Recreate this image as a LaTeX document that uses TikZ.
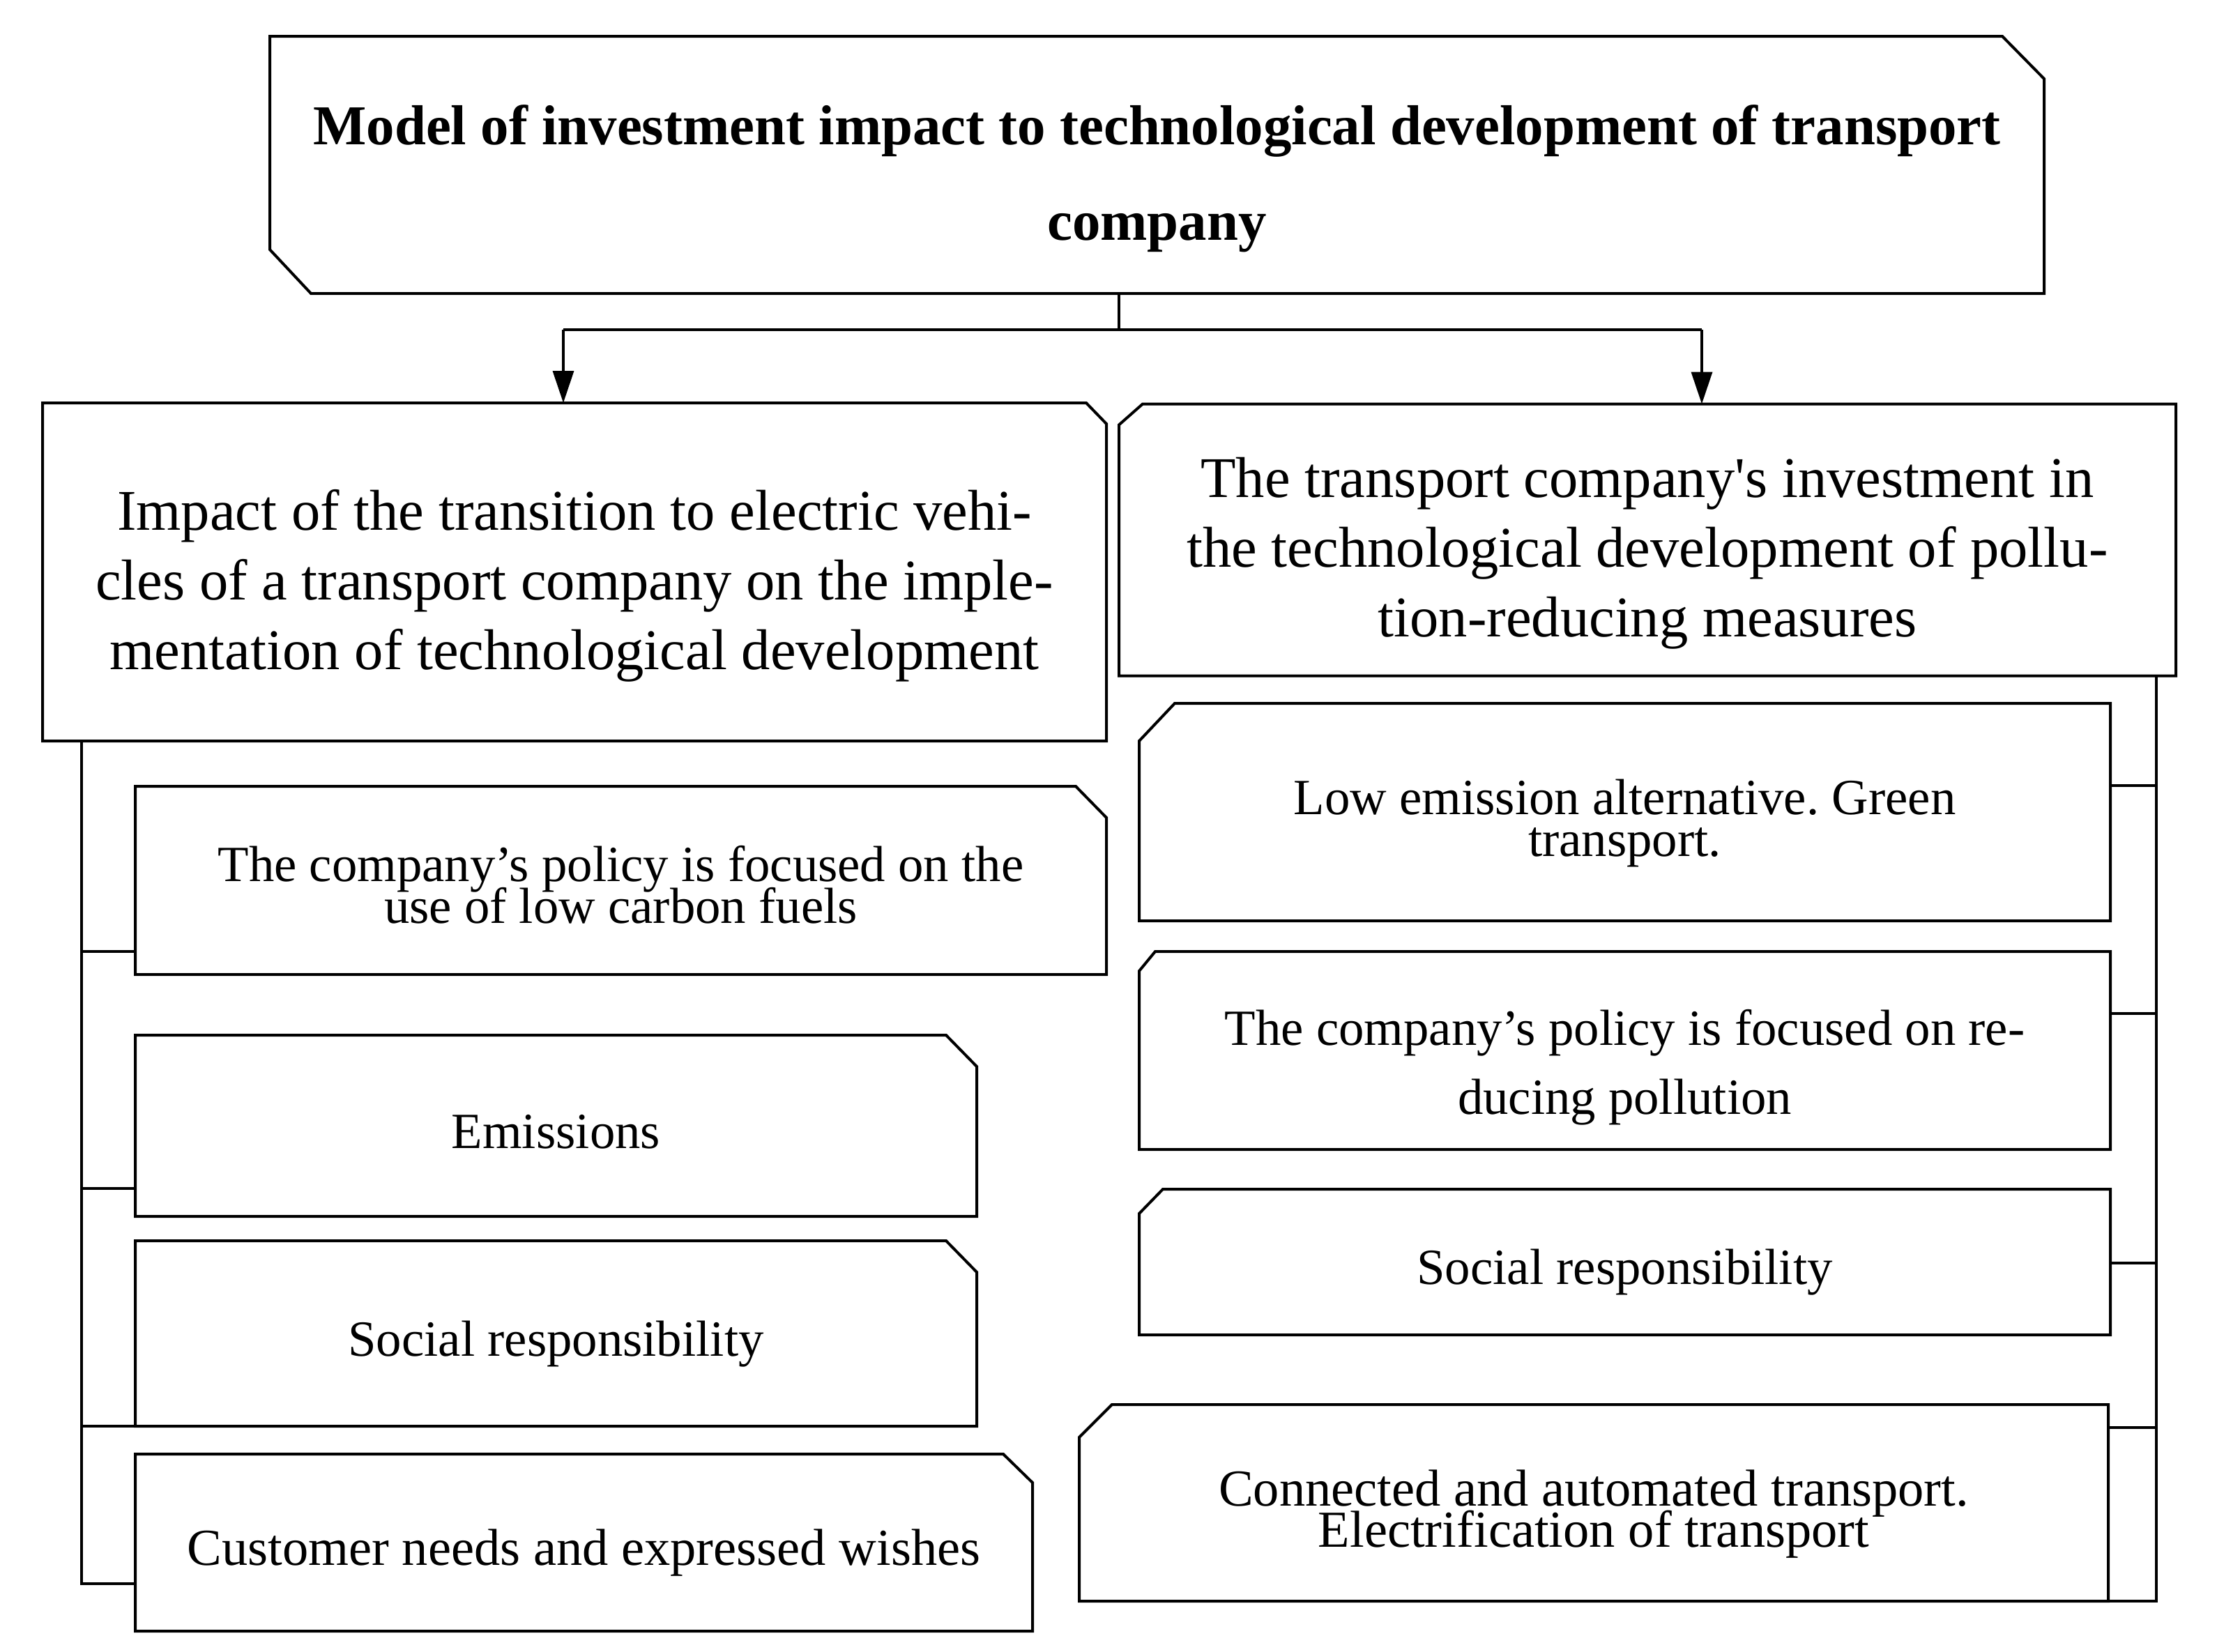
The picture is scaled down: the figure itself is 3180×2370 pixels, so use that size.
\documentclass[tikz,border=0pt]{standalone}
\usepackage{fontspec}
\setmainfont{Liberation Serif}
\frenchspacing
\usetikzlibrary{arrows.meta}
\newcommand\outlineNE[3]{\draw[edge] (#1.north west) -- ([xshift=-#2]#1.north east) -- ([yshift=-#3]#1.north east) -- (#1.south east) -- (#1.south west) -- cycle;}
\newcommand\outlineNW[3]{\draw[edge] (#1.north east) -- (#1.south east) -- (#1.south west) -- ([yshift=-#3]#1.north west) -- ([xshift=#2]#1.north west) -- cycle;}
\newcommand\fsz[2]{\fontsize{#1}{#2}\selectfont\lineskiplimit=-100pt\lineskip=0pt}
\begin{document}
\begin{tikzpicture}[x=0.1mm,y=-0.1mm,
  edge/.style={line width=0.4mm, line join=miter},
  conn/.style={line width=0.35mm},
  arr/.style={conn,-{Triangle[length=4.6mm,width=3mm]}},
  box/.style={inner sep=0pt, outer sep=0pt},
  txt/.style={inner sep=0pt, outer sep=0pt, align=center},
  big/.style={txt, font=\fsz{23.5}{28.5}},
  small/.style={txt, font=\fsz{20.7}{17}},
]
\useasboundingbox[fill=white] (0,0) rectangle (3180,2370);

% boxes
\node[box, minimum width=254.5mm, minimum height=36.9mm] (T) at (1659.5,236.5) {};
\node[box, minimum width=152.6mm, minimum height=48.5mm] (L) at (824,820.5) {};
\node[box, minimum width=151.6mm, minimum height=39mm] (R) at (2363,774.5) {};
\node[box, minimum width=139.3mm, minimum height=27mm] (L1) at (890.5,1263) {};
\node[box, minimum width=120.7mm, minimum height=26mm] (L2) at (797.5,1615) {};
\node[box, minimum width=120.7mm, minimum height=26.6mm] (L3) at (797.5,1913) {};
\node[box, minimum width=128.7mm, minimum height=25.4mm] (L4) at (837.5,2213) {};
\node[box, minimum width=139.3mm, minimum height=31.2mm] (R1) at (2330.5,1165) {};
\node[box, minimum width=139.3mm, minimum height=28.4mm] (R2) at (2330.5,1507) {};
\node[box, minimum width=139.3mm, minimum height=20.9mm] (R3) at (2330.5,1810.5) {};
\node[box, minimum width=147.6mm, minimum height=28.2mm] (R4) at (2286,2156) {};

% outlines
\draw[edge] (T.north west) -- ([xshift=-6mm]T.north east) -- ([yshift=-6.1mm]T.north east) -- (T.south east)
  -- ([xshift=5.9mm]T.south west) -- ([yshift=6.3mm]T.south west) -- cycle;
\outlineNE{L}{2.9mm}{3mm}
\outlineNW{R}{3.4mm}{3mm}
\outlineNE{L1}{4.4mm}{4.5mm}
\outlineNE{L2}{4.4mm}{4.5mm}
\outlineNE{L3}{4.4mm}{4.5mm}
\outlineNE{L4}{4.2mm}{4.1mm}
\outlineNW{R1}{5.1mm}{5.4mm}
\outlineNW{R2}{2.3mm}{2.8mm}
\outlineNW{R3}{3.4mm}{3.5mm}
\outlineNW{R4}{4.7mm}{4.7mm}

% texts
\node[txt, font=\bfseries\fsz{23}{39}] (Tt) at ([yshift=-2mm]T.center)
  {Model of investment impact to technological development of transport\\company};
\node[big] (Lt) at ([yshift=-2mm]L.center)
  {Impact of the transition to electric vehi-\\cles of a transport company on the imple-\\mentation of technological development};
\node[big] (Rt) at ([yshift=-1.9mm]R.center)
  {The transport company\textquotesingle s investment in\\the technological development of pollu-\\tion-reducing measures};
\node[small] (L1t) at ([yshift=-0.6mm]L1.center)
  {The company’s policy is focused on the\\use of low carbon fuels};
\node[small] (L2t) at ([yshift=-0.9mm]L2.center) {Emissions};
\node[small] (L3t) at ([yshift=-1.5mm]L3.center) {Social responsibility};
\node[txt, font=\fsz{21.2}{17}] (L4t) at ([yshift=-1.5mm]L4.center) {Customer needs and expressed wishes};
\node[small] (R1t) at ([yshift=-1.6mm]R1.center)
  {Low emission alternative. Green\\transport.};
\node[txt, font=\fsz{20.7}{28.2}] (R2t) at ([yshift=-2.4mm]R2.center)
  {The company’s policy is focused on re-\\ducing pollution};
\node[small] (R3t) at ([yshift=-1.5mm]R3.center) {Social responsibility};
\node[txt, font=\fsz{21.2}{17}] (R4t) at ([yshift=-1.6mm]R4.center)
  {Connected and automated transport.\\Electrification of transport};

% top connectors
\coordinate (tee) at (1605,473);
\coordinate (aL) at (808,473);
\coordinate (aR) at (2441,473);
\draw[conn] (tee |- T.south) -- (tee);
\draw[conn] (aL) -- (aR);
\draw[arr] (aL) -- (aL |- L.north);
\draw[arr] (aR) -- (aR |- R.north);

% left spine
\coordinate (lx) at (117,0);
\coordinate (l1) at (117,1365);
\coordinate (l2) at (117,1705);
\coordinate (l3) at (117,2046);
\coordinate (l4) at (117,2272);
\draw[edge] (lx |- L.south) -- (l4) -- (l4 -| L4.west);
\draw[edge] (l1) -- (l1 -| L1.west);
\draw[edge] (l2) -- (l2 -| L2.west);
\draw[edge] (l3) -- (l3 -| L3.west);

% right spine
\coordinate (rx) at (3093,0);
\coordinate (r1) at (3093,1127);
\coordinate (r2) at (3093,1454);
\coordinate (r3) at (3093,1812);
\coordinate (r4) at (3093,2048);
\coordinate (r5) at (3093,2297);
\draw[edge] (rx |- R.south) -- (r5) -- (r5 -| R4.east);
\draw[edge] (r1) -- (r1 -| R1.east);
\draw[edge] (r2) -- (r2 -| R2.east);
\draw[edge] (r3) -- (r3 -| R3.east);
\draw[edge] (r4) -- (r4 -| R4.east);
\end{tikzpicture}
\end{document}
